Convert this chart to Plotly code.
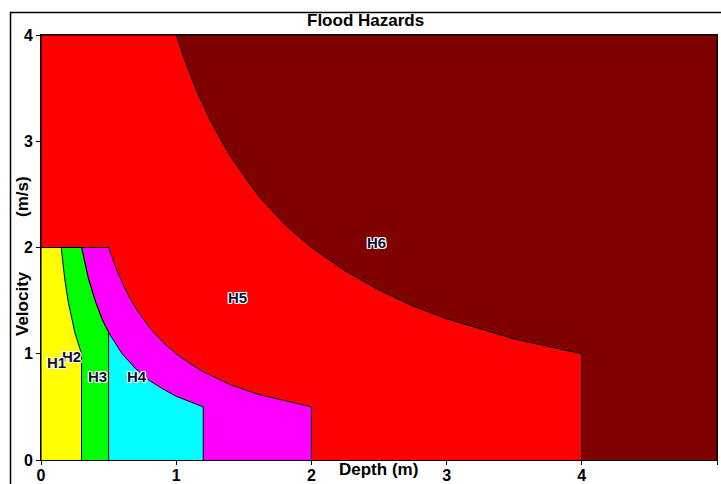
import plotly.graph_objects as go

# Hazard zone boundaries (depth m, velocity m/s)
h6_depth = [0, 0, 5, 5]
h6_vel = [0, 4, 4, 0]
h5_depth = [0, 0, 1.0, 1.07, 1.15, 1.25, 1.4, 1.6, 1.8, 2.0, 2.25, 2.5, 2.75, 3.0, 3.5, 4.0, 4.0]
h5_vel = [0, 4, 4, 3.74, 3.48, 3.2, 2.86, 2.5, 2.22, 2.0, 1.78, 1.6, 1.45, 1.33, 1.14, 1.0, 0]
h4_depth = [0, 0, 0.5, 0.55, 0.6, 0.65, 0.7, 0.8, 0.9, 1.0, 1.1, 1.2, 1.4, 1.6, 1.8, 2.0, 2.0]
h4_vel = [0, 2, 2, 1.82, 1.67, 1.54, 1.43, 1.25, 1.11, 1.0, 0.91, 0.83, 0.71, 0.62, 0.56, 0.5, 0]
h3_depth = [0, 0, 0.3, 0.35, 0.4, 0.45, 0.5, 0.6, 0.7, 0.8, 0.9, 1.0, 1.1, 1.2, 1.2]
h3_vel = [0, 2, 2, 1.71, 1.5, 1.33, 1.2, 1.0, 0.86, 0.75, 0.67, 0.6, 0.55, 0.5, 0]
h2_depth = [0, 0, 0.3, 0.35, 0.4, 0.45, 0.5, 0.5]
h2_vel = [0, 2, 2, 1.71, 1.5, 1.33, 1.2, 0]
h1_depth = [0, 0, 0.15, 0.175, 0.2, 0.25, 0.3, 0.3]
h1_vel = [0, 2, 2, 1.71, 1.5, 1.2, 1.0, 0]

zone_colors = ["#800000", "#ff0000", "#ff00ff", "#00ffff", "#00ff00", "#ffff00"]

label_names = ["H2", "H1", "H3", "H4", "H5", "H6"]
label_depth = [0.229, 0.118, 0.42, 0.71, 1.457, 2.478]
label_vel = [0.97, 0.92, 0.79, 0.79, 1.525, 2.05]

x_ticks = [0, 1, 2, 3, 4, 5]
y_ticks = [0, 1, 2, 3, 4]

FONT = "Arial, Liberation Sans, sans-serif"

fig = go.Figure()
zones = [(h6_depth, h6_vel), (h5_depth, h5_vel), (h4_depth, h4_vel),
         (h3_depth, h3_vel), (h2_depth, h2_vel), (h1_depth, h1_vel)]
for (xd, yv), col in zip(zones, zone_colors):
    fig.add_trace(go.Scatter(x=xd, y=yv, mode="lines", fill="toself",
                             fillcolor=col, line=dict(color="black", width=1),
                             hoverinfo="skip", showlegend=False))

halo = ("1px 1px 0 white, -1px -1px 0 white, 1px -1px 0 white, -1px 1px 0 white, "
        "0 1px 0 white, 0 -1px 0 white, 1px 0 0 white, -1px 0 0 white")
for name, xd, yv in zip(label_names, label_depth, label_vel):
    fig.add_annotation(x=xd, y=yv, text="<b>%s</b>" % name, showarrow=False,
                       xanchor="center", yanchor="middle",
                       font=dict(family=FONT, size=15, color="#101030", shadow=halo))

W, H = 721, 484
ml, mr, mt, mb = 41, 4, 35, 24
pw, ph = W - ml - mr, H - mt - mb

def px(xp):
    return (xp - ml) / pw

def py(yp):
    return (H - mb - yp) / ph

title_font = dict(family=FONT, size=17, color="black")
fig.add_annotation(xref="paper", yref="paper", x=px(365), y=py(21),
                   xanchor="center", yanchor="middle",
                   text="<b>Flood Hazards</b>", showarrow=False, font=title_font)
fig.add_annotation(xref="paper", yref="paper", x=px(378), y=py(470),
                   xanchor="center", yanchor="middle",
                   text="<b>Depth (m)</b>", showarrow=False, font=title_font)
fig.add_annotation(xref="paper", yref="paper", x=px(22), y=py(304),
                   xanchor="center", yanchor="middle",
                   text="<b>Velocity</b>", showarrow=False, textangle=-90, font=title_font)
fig.add_annotation(xref="paper", yref="paper", x=px(22), y=py(197),
                   xanchor="center", yanchor="middle",
                   text="<b>(m/s)</b>", showarrow=False, textangle=-90, font=title_font)

# outer frame: right/bottom edges fall outside the page
fig.add_shape(type="rect", xref="paper", yref="paper",
              x0=px(10.5), y0=py(H + 20), x1=px(W + 20), y1=py(12.5),
              line=dict(color="black", width=1.5), fillcolor="rgba(0,0,0,0)",
              layer="above")

axis_common = dict(showgrid=False, zeroline=False, showline=True, linecolor="black",
                   linewidth=1, mirror=True, ticks="outside", ticklen=4,
                   tickcolor="black", automargin=False,
                   tickfont=dict(family=FONT, size=16, color="black"))
fig.update_xaxes(range=[0, 5], tickvals=x_ticks, ticktext=["<b>%d</b>" % t for t in x_ticks],
                 ticklabelstandoff=-3, **axis_common)
fig.update_yaxes(range=[0, 4], tickvals=y_ticks, ticktext=["<b>%d</b>" % t for t in y_ticks],
                 **axis_common)

fig.update_layout(width=W, height=H, margin=dict(l=ml, r=mr, t=mt, b=mb, autoexpand=False),
                  paper_bgcolor="white", plot_bgcolor="white", showlegend=False)

fig.write_html("out.html", config={"displayModeBar": False},
               post_script="document.body.style.margin='0';document.body.style.overflow='hidden';")
